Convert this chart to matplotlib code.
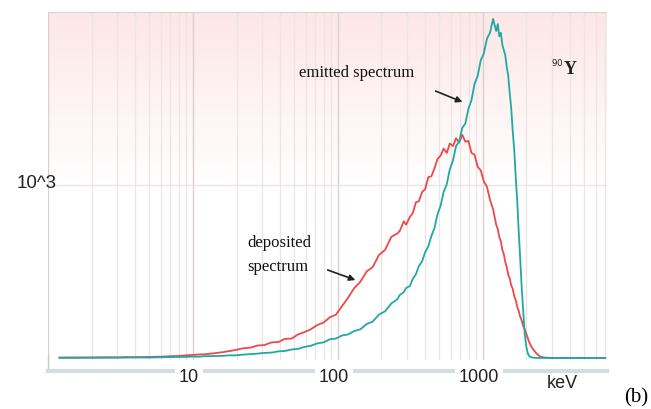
import matplotlib
matplotlib.use("Agg")
import matplotlib.pyplot as plt
import numpy as np
from matplotlib.colors import LinearSegmentedColormap
from matplotlib.transforms import blended_transform_factory

# energy bins (keV) shared by both spectra
energy = [1.2, 1.5, 2, 2.5, 3, 3.5, 4, 5, 6, 7, 8, 9, 10, 11, 12, 14, 16, 18, 20, 22,
          25, 28, 31, 35, 39, 43, 48, 53, 59, 65, 72, 80, 88, 97, 107, 118, 130, 143,
          158, 174, 192, 212, 234,
          258, 268, 285, 296, 314, 328, 346, 362, 382, 400, 421, 442, 464, 487, 512,
          537, 565, 592, 623, 654, 687, 722, 758, 796, 836, 878, 922, 968, 1017, 1068,
          1122, 1178, 1238, 1270, 1300, 1333, 1365, 1398, 1430, 1465, 1500, 1535, 1570,
          1610, 1650, 1690, 1730, 1770, 1810, 1855, 1900, 1950, 2000, 2050, 2100, 2150,
          2200, 2350, 2500, 2700, 3000, 4000, 5000, 6000, 7000]

deposited = [2, 3, 2, 4, 3, 5, 4, 6, 7, 10, 11, 15, 17, 20, 21, 27, 33, 40, 47, 55,
             60, 72, 74, 90, 92, 110, 112, 135, 150, 165, 190, 205, 235, 250, 300, 350,
             405, 440, 500, 525, 595, 625, 700,
             720, 735, 790, 770, 815, 835, 900, 905, 960, 975, 1045, 1050, 1095, 1150, 1170,
             1210, 1185, 1240, 1225, 1270, 1245, 1290, 1250, 1255, 1185, 1175, 1105, 1085,
             1020, 990, 915, 860, 770, 745, 700, 675, 625, 600, 555, 525, 480, 460, 420,
             400, 355, 335, 295, 272, 240, 218, 185, 165, 138, 112, 88, 70,
             56, 25, 7, 2, 0, 0, 0, 0, 0]

emitted = [1, 0, 2, 1, 2, 2, 3, 2, 4, 5, 6, 6, 8, 7, 10, 11, 12, 15, 15, 19,
           22, 25, 29, 31, 38, 40, 49, 52, 64, 70, 84, 90, 108, 112, 130, 136,
           156, 165, 196, 210, 250, 270, 315,
           340, 365, 380, 405, 415, 455, 485, 530, 560, 610, 645, 705, 750, 830, 880,
           960, 1005, 1090, 1140, 1225, 1250, 1330, 1355, 1440, 1490, 1585, 1630, 1720,
           1760, 1845, 1880, 1960, 1890, 1930, 1860, 1880, 1810, 1780, 1750, 1680, 1630,
           1530, 1450, 1310, 1200, 1040, 905, 735, 585, 415, 275, 135, 62, 24, 10, 4,
           2, 0, 0, 0, 0, 0, 0, 0, 0]

xtick_vals = [10, 100, 1000]
xtick_labels = ["10", "100", "1000"]

fig = plt.figure(figsize=(6.51, 4.09), dpi=100)
ax = fig.add_axes([48/651, 1-360/409, 559/651, 348/409])
ax.set_xscale("log")
ax.set_xlim(1, 7200)
ax.set_ylim(-12, 2000)

# pink background fading to white
pink = LinearSegmentedColormap.from_list("pk", ["#ffffff", "#ffffff", "#fde6e6"])
grad = np.linspace(0, 1, 256).reshape(-1, 1)
ax.imshow(grad, cmap=pink, aspect="auto", origin="lower",
          extent=[0, 1, 0, 1], transform=ax.transAxes, zorder=0)

# log grid
for dec in [1, 10, 100, 1000]:
    for k in range(1, 10):
        v = dec * k
        if v > 7200:
            continue
        if k == 1:
            ax.axvline(v, color="#dccfcf", lw=1.0, zorder=1)
        else:
            ax.axvline(v, color="#ede4e4", lw=0.9, zorder=1)
ax.axhline(1000, color="#ece4e4", lw=1.0, zorder=1)
ax.axhline(2000, color="#d4d4d4", lw=1.5, zorder=1)

ax.plot(energy, deposited, color="#ee4848", lw=1.3, zorder=3)
ax.plot(energy, emitted, color="#1fa9a2", lw=1.3, zorder=3)

for s in ["top", "right", "left"]:
    ax.spines[s].set_visible(False)
ax.spines["bottom"].set_position(("outward", 8))
ax.spines["bottom"].set_color("#d3dbe3")
ax.spines["bottom"].set_linewidth(3)
ax.set_xticks([])
ax.set_yticks([])
ax.minorticks_off()

tr = blended_transform_factory(ax.transData, ax.transAxes)
for v, lab in zip(xtick_vals, xtick_labels):
    ax.text(v * 0.94, -0.05, lab, transform=tr, ha="center", va="center",
            fontsize=13, family="Liberation Sans", color="#222222",
            bbox=dict(facecolor="white", edgecolor="none", pad=3), clip_on=False, zorder=5)

fig.text(562/651, 1-383/409, "keV", ha="center", va="center", fontsize=13,
         family="Liberation Sans", color="#222222")
fig.text(636/651, 1-398/409, "(b)", ha="center", va="center", fontsize=15,
         family="Liberation Serif", color="#000000")
fig.text(37/651, 1-183/409, "10^3", ha="center", va="center", fontsize=13.5,
         family="Liberation Sans", color="#222222")

# small left tick
fig.add_artist(plt.Line2D([48/651, 48/651], [1-355/409, 1-368/409],
                          color="#c8c8c8", lw=1))

serif = "Liberation Serif"
ax.text(357/651, 1-73/409, "emitted spectrum", transform=fig.transFigure,
        ha="center", va="center", fontsize=12, family=serif, color="#111111")
ax.annotate("", xy=(465/651, 1-103/409), xytext=(433/651, 1-90/409),
            xycoords="figure fraction", textcoords="figure fraction",
            arrowprops=dict(arrowstyle="-|>", color="#222222", lw=1.2,
                            mutation_scale=9))
ax.text(279/651, 1-243/409, "deposited", transform=fig.transFigure,
        ha="center", va="center", fontsize=12, family=serif, color="#111111")
ax.text(278/651, 1-267/409, "spectrum", transform=fig.transFigure,
        ha="center", va="center", fontsize=12, family=serif, color="#111111")
ax.annotate("", xy=(358/651, 1-281/409), xytext=(325/651, 1-269/409),
            xycoords="figure fraction", textcoords="figure fraction",
            arrowprops=dict(arrowstyle="-|>", color="#222222", lw=1.2,
                            mutation_scale=9))

fig.text(564/651, 1-66/409, "$^{90}$", ha="right", va="center", fontsize=9,
         family=serif, color="#222222", fontweight="bold")
fig.text(564/651, 1-70/409, "Y", ha="left", va="center", fontsize=13,
         family=serif, color="#222222", fontweight="bold")

fig.savefig("out.png", dpi=100)
